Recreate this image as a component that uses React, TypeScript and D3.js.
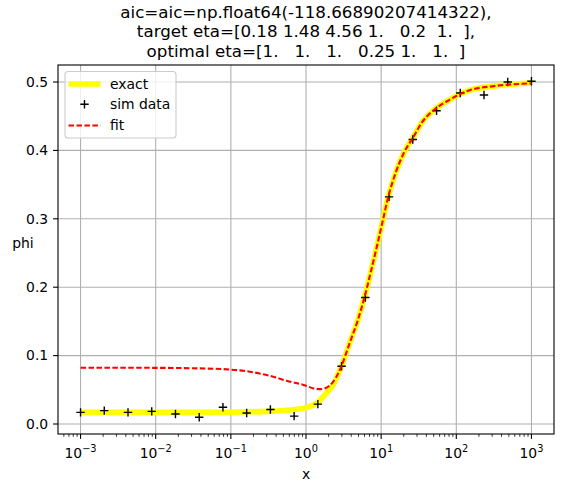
import React from "react";
import * as d3 from "d3";

// simulated data points (x is log-spaced)
const simX = [0.001, 0.002069, 0.004281, 0.008859, 0.01833, 0.03793, 0.07848, 0.1624, 0.336, 0.6952,
  1.438, 2.976, 6.158, 12.74, 26.37, 54.56, 112.9, 233.6, 483.3, 1000];
const simY = [0.017, 0.0195, 0.017, 0.0185, 0.0146, 0.0098, 0.0244, 0.016, 0.0213, 0.0115,
  0.029, 0.0845, 0.185, 0.332, 0.416, 0.458, 0.484, 0.481, 0.5, 0.501];

// exact curve
const exactX = [0.001, 0.01, 0.1, 0.316, 0.562, 1, 1.41, 1.86, 2.29, 2.95, 3.8, 4.9, 6.03, 7.24, 8.71,
  10.5, 12.3, 15.8, 20.4, 26.3, 35.5, 53.7, 81.3, 110, 151, 316, 1000];
const exactY = [0.017, 0.017, 0.0172, 0.0185, 0.02, 0.024, 0.031, 0.045, 0.057, 0.084, 0.118, 0.152, 0.186,
  0.221, 0.258, 0.297, 0.33, 0.369, 0.398, 0.418, 0.442, 0.4615, 0.474, 0.482, 0.488, 0.494, 0.499];

// fitted curve
const fitX = [0.001, 0.00316, 0.01, 0.0316, 0.1, 0.178, 0.316, 0.562, 1, 1.26, 1.58, 2.0, 2.51, 2.95,
  3.8, 4.9, 6.03, 7.24, 8.71, 10.5, 12.3, 15.8, 20.4, 26.3, 35.5, 53.7, 81.3, 110, 151, 316, 1000];
const fitY = [0.0822, 0.0822, 0.0821, 0.0815, 0.0795, 0.0765, 0.071, 0.063, 0.056, 0.052, 0.051, 0.055,
  0.068, 0.084, 0.118, 0.152, 0.186, 0.221, 0.258, 0.297, 0.33, 0.369, 0.398, 0.418, 0.442, 0.4615,
  0.474, 0.482, 0.488, 0.494, 0.498];

const yTicks = [0, 0.1, 0.2, 0.3, 0.4, 0.5];
const xTickExps = [-3, -2, -1, 0, 1, 2, 3];
const titleLines = [
  "aic=aic=np.float64(-118.66890207414322),",
  "target eta=[0.18 1.48 4.56 1.   0.2  1.  ],",
  "optimal eta=[1.   1.   1.   0.25 1.   1.  ]",
];

const FONT = "DejaVu Sans, sans-serif";

export default function App() {
  const width = 564;
  const height = 492;
  const left = 58, right = 554, top = 65, bottom = 434;

  const x = d3.scaleLog().domain([10 ** -3.3, 10 ** 3.3]).range([left, right]);
  const y = d3.scaleLinear().domain([-0.01462, 0.52485]).range([bottom, top]);

  const line = d3
    .line<[number, number]>()
    .x((d) => x(d[0]))
    .y((d) => y(d[1]))
    .curve(d3.curveMonotoneX);

  const exactPath = line(exactX.map((v, i) => [v, exactY[i]])) || "";
  const fitPath = line(fitX.map((v, i) => [v, fitY[i]])) || "";

  const [d0, d1] = x.domain();
  const minor: number[] = [];
  for (let e = -4; e <= 3; e++) {
    for (let k = 2; k <= 9; k++) {
      const v = k * 10 ** e;
      if (v >= d0 && v <= d1) minor.push(v);
    }
  }

  const cx = (left + right) / 2;
  const plus = (px: number, py: number, s = 4.2) =>
    `M${px - s},${py}H${px + s}M${px},${py - s}V${py + s}`;

  return (
    <svg
      width={width}
      height={height}
      style={{ position: "fixed", left: 0, top: 0, background: "#fff" }}
      fontFamily={FONT}
    >
      <rect width={width} height={height} fill="#fff" />

      {/* title */}
      {titleLines.map((t, i) => (
        <text key={i} x={cx} y={17.5 + i * 19.5} textAnchor="middle" fontSize={16.7}
          style={{ whiteSpace: "pre" }} fill="#000">
          {t}
        </text>
      ))}

      {/* grid */}
      {xTickExps.map((e) => (
        <line key={"gx" + e} x1={x(10 ** e)} x2={x(10 ** e)} y1={top} y2={bottom} stroke="#b0b0b0" strokeWidth={1.1} />
      ))}
      {yTicks.map((t) => (
        <line key={"gy" + t} x1={left} x2={right} y1={y(t)} y2={y(t)} stroke="#b0b0b0" strokeWidth={1.1} />
      ))}

      {/* exact */}
      <path d={exactPath} fill="none" stroke="#ffff00" strokeWidth={5.6} strokeLinejoin="round" />

      {/* sim data */}
      {simX.map((v, i) => (
        <path key={"p" + i} d={plus(x(v), y(simY[i]))} stroke="#000" strokeWidth={1.4} fill="none" />
      ))}

      {/* fit */}
      <path d={fitPath} fill="none" stroke="#ff0000" strokeWidth={2.1} strokeDasharray="5.55,2.4" />

      {/* spines */}
      <rect x={left} y={top} width={right - left} height={bottom - top} fill="none" stroke="#000" strokeWidth={1.1} />

      {/* x ticks */}
      {minor.map((v) => (
        <line key={"mx" + v} x1={x(v)} x2={x(v)} y1={bottom} y2={bottom + 2.8} stroke="#000" strokeWidth={0.8} />
      ))}
      {xTickExps.map((e) => (
        <g key={"tx" + e}>
          <line x1={x(10 ** e)} x2={x(10 ** e)} y1={bottom} y2={bottom + 4.9} stroke="#000" strokeWidth={1.1} />
          <text x={x(10 ** e)} y={458} textAnchor="middle" fontSize={13.9} fill="#000">
            10
            <tspan dy={-6} fontSize={9.8}>{e < 0 ? "\u2212" + -e : String(e)}</tspan>
          </text>
        </g>
      ))}

      {/* y ticks */}
      {yTicks.map((t) => (
        <g key={"ty" + t}>
          <line x1={left - 4.9} x2={left} y1={y(t)} y2={y(t)} stroke="#000" strokeWidth={1.1} />
          <text x={left - 9.8} y={y(t)} dy="0.35em" textAnchor="end" fontSize={13.9} fill="#000">
            {t.toFixed(1)}
          </text>
        </g>
      ))}

      {/* axis labels */}
      <text x={cx} y={479} textAnchor="middle" fontSize={13.9} fill="#000">x</text>
      <text x={23} y={243} dy="0.35em" textAnchor="middle" fontSize={13.9} fill="#000">phi</text>

      {/* legend */}
      <g>
        <rect x={65} y={71.5} width={111} height={66.5} rx={3} fill="#fff" fillOpacity={0.8} stroke="#cccccc" strokeWidth={1.1} />
        <line x1={68.5} x2={100.5} y1={84} y2={84} stroke="#ffff00" strokeWidth={5.6} />
        <text x={110} y={84} dy="0.35em" fontSize={13.9} fill="#000">exact</text>
        <path d={plus(84.5, 104.3)} stroke="#000" strokeWidth={1.4} />
        <text x={110} y={104.3} dy="0.35em" fontSize={13.9} fill="#000">sim data</text>
        <line x1={68.5} x2={100.5} y1={125.5} y2={125.5} stroke="#ff0000" strokeWidth={2.1} strokeDasharray="5.55,2.4" />
        <text x={110} y={125.5} dy="0.35em" fontSize={13.9} fill="#000">fit</text>
      </g>
    </svg>
  );
}
